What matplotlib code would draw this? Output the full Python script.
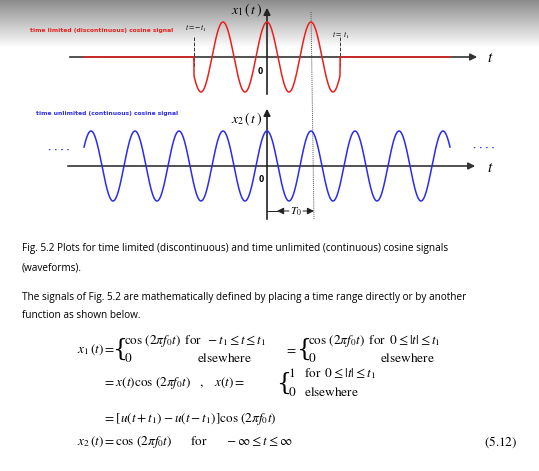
import numpy as np
import matplotlib.pyplot as plt

plt.rcParams['mathtext.fontset'] = 'stix'

# signal geometry (in pixels of the drawing)
origin_x = 267
period = 44.0
amplitude = 35.0
t1 = 73.0
span = (84, 450)
top_axis_y = 57
bot_axis_y = 166

fig = plt.figure(figsize=(5.39, 4.71), dpi=100)
ax = fig.add_axes([0, 0, 1, 1])
ax.set_xlim(0, 539)
ax.set_ylim(471, 0)
ax.axis('off')

# gray header band
grad = np.linspace(0.55, 1.0, 60).reshape(-1, 1)
ax.imshow(grad, cmap='gray', vmin=0, vmax=1, extent=(0, 539, 48, 0), aspect='auto', zorder=0)

t = np.linspace(span[0], span[1], 2000)
wave = np.cos(2 * np.pi * (t - origin_x) / period)

# top: time limited signal
red = np.where(np.abs(t - origin_x) <= t1, top_axis_y - amplitude * wave, top_axis_y)
ax.annotate('', xy=(480, top_axis_y), xytext=(67, top_axis_y),
            arrowprops=dict(arrowstyle='-|>', color='#333', lw=1.2))
ax.annotate('', xy=(origin_x, 5), xytext=(origin_x, 97),
            arrowprops=dict(arrowstyle='-|>', color='#222', lw=1.2))
ax.plot(t, red, color='#e8201e', lw=1.1, zorder=3)
for xx in (origin_x - t1, origin_x + t1):
    ax.plot([xx, xx], [37, 67], color='#333', lw=0.7, ls='--')
ax.text(30, 32, 'time limited (discontinuous) cosine signal', color='#e8201e', fontsize=4.3, fontweight='bold')
ax.text(185, 31, '$t = -\\,t_1$', fontsize=5.5)
ax.text(332, 38, '$t = \\ t_1$', fontsize=5.5)
ax.text(262, 14, '$x_1\\,(\\,t\\,)$', fontsize=10, ha='right')
ax.text(258, 74, '0', fontsize=5.5, fontweight='bold')
ax.text(487, 62, '$t$', fontsize=11)

# bottom: time unlimited signal
blue = bot_axis_y - amplitude * wave
ax.annotate('', xy=(478, bot_axis_y), xytext=(65, bot_axis_y),
            arrowprops=dict(arrowstyle='-|>', color='#333', lw=1.2))
ax.annotate('', xy=(origin_x, 106), xytext=(origin_x, 222),
            arrowprops=dict(arrowstyle='-|>', color='#222', lw=1.2))
ax.plot(t, blue, color='#2b2bf0', lw=1.1, zorder=3)
ax.text(36, 115, 'time unlimited (continuous) cosine signal', color='#2b2bf0', fontsize=4.3, fontweight='bold')
ax.text(262, 123, '$x_2\\,(\\,t\\,)$', fontsize=10, ha='right')
ax.text(259, 182, '0', fontsize=5.5, fontweight='bold')
ax.text(487, 172, '$t$', fontsize=11)
ax.text(48, 153, '· · · ·', color='#2b2bf0', fontsize=6, fontweight='bold')
ax.text(473, 151, '· · · ·', color='#2b2bf0', fontsize=6, fontweight='bold')

# period marker
ax.plot([origin_x + period, origin_x + period + 3], [12, 220], color='#555', lw=0.7, ls=(0, (1, 1)))
ax.annotate('', xy=(origin_x + 10, 211), xytext=(origin_x + 22, 211),
            arrowprops=dict(arrowstyle='-|>', color='#222', lw=0.7, shrinkA=0, shrinkB=0))
ax.annotate('', xy=(origin_x + period + 3, 211), xytext=(origin_x + 36, 211),
            arrowprops=dict(arrowstyle='-|>', color='#222', lw=0.7, shrinkA=0, shrinkB=0))
ax.plot([origin_x, origin_x + 10], [211, 211], color='#222', lw=0.7)
ax.text(origin_x + 29, 214, '$T_0$', fontsize=8, ha='center')

# caption text
fam = ['Open Sans', 'DejaVu Sans']
cs = 7.2
ax.text(22, 251, 'Fig. 5.2 Plots for time limited (discontinuous) and time unlimited (continuous) cosine signals',
        fontsize=cs, family=fam)
ax.text(22, 270, '(waveforms).', fontsize=cs, family=fam)
ax.text(22, 300, 'The signals of Fig. 5.2 are mathematically defined by placing a time range directly or by another',
        fontsize=cs, family=fam)
ax.text(22, 318, 'function as shown below.', fontsize=cs, family=fam)

# equations
ef = dict(fontsize=9.5, va='center')
bf = dict(fontsize=17, family='DejaVu Serif', va='center', fontweight='light')
ax.text(77, 350, '$x_1\\,(t) =$', **ef)
ax.text(112, 349, '{', **bf)
ax.text(124, 341, '$\\cos\\,(2\\pi f_0 t)\\;\\;\\mathrm{for}\\;\\;-t_1 \\leq t \\leq t_1$', **ef)
ax.text(124, 359, '$0$', **ef)
ax.text(197, 359, '$\\mathrm{elsewhere}$', **ef)
ax.text(285, 350, '$=$', **ef)
ax.text(296, 349, '{', **bf)
ax.text(308, 341, '$\\cos\\,(2\\pi f_0 t)\\;\\;\\mathrm{for}\\;\\;0 \\leq |t| \\leq t_1$', **ef)
ax.text(308, 359, '$0$', **ef)
ax.text(380, 359, '$\\mathrm{elsewhere}$', **ef)
ax.text(103, 383, '$= x(t)\\cos\\,(2\\pi f_0 t)\\quad,\\quad x(t) =$', **ef)
ax.text(276, 383, '{', **bf)
ax.text(288, 374, '$1\\quad\\mathrm{for}\\;\\;0 \\leq |t| \\leq t_1$', **ef)
ax.text(288, 392, '$0\\quad\\mathrm{elsewhere}$', **ef)
ax.text(103, 419, '$= [u(t + t_1) - u(t - t_1)]\\cos\\,(2\\pi f_0 t)$', **ef)
ax.text(77, 442, '$x_2\\,(t) = \\cos\\,(2\\pi f_0 t)\\qquad\\mathrm{for}\\qquad -\\infty \\leq t \\leq \\infty$', **ef)
ax.text(484, 442, '$(5.12)$', **ef)

fig.savefig('out.png', dpi=100)
